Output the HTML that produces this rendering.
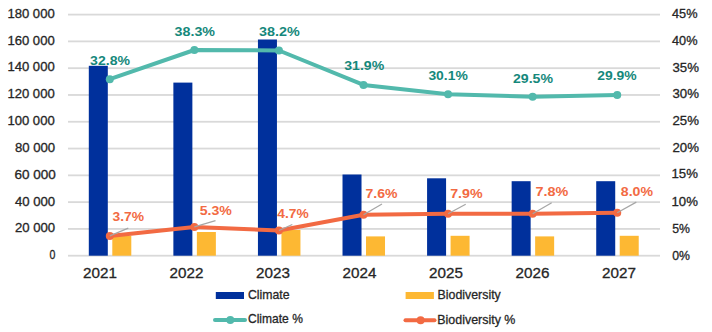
<!DOCTYPE html>
<html><head><meta charset="utf-8"><style>
html,body{margin:0;padding:0;background:#fff;width:712px;height:332px;overflow:hidden}
svg{display:block}
text{font-family:"Liberation Sans",sans-serif}
</style></head><body>
<svg width="712" height="332" viewBox="0 0 712 332"><rect width="712" height="332" fill="#fff"/><rect x="68" y="13.70" width="592" height="1.8" fill="#d9d9d9"/><rect x="68" y="40.49" width="592" height="1.8" fill="#d9d9d9"/><rect x="68" y="67.28" width="592" height="1.8" fill="#d9d9d9"/><rect x="68" y="94.07" width="592" height="1.8" fill="#d9d9d9"/><rect x="68" y="120.86" width="592" height="1.8" fill="#d9d9d9"/><rect x="68" y="147.65" width="592" height="1.8" fill="#d9d9d9"/><rect x="68" y="174.44" width="592" height="1.8" fill="#d9d9d9"/><rect x="68" y="201.23" width="592" height="1.8" fill="#d9d9d9"/><rect x="68" y="228.02" width="592" height="1.8" fill="#d9d9d9"/><rect x="68" y="254.81" width="592" height="1.8" fill="#d9d9d9"/><rect x="88.80" y="65.80" width="19" height="189.90" fill="#00309c"/><rect x="112.30" y="235.90" width="19" height="19.80" fill="#fdb833"/><rect x="173.37" y="82.60" width="19" height="173.10" fill="#00309c"/><rect x="196.87" y="232.00" width="19" height="23.70" fill="#fdb833"/><rect x="257.94" y="39.50" width="19" height="216.20" fill="#00309c"/><rect x="281.44" y="229.90" width="19" height="25.80" fill="#fdb833"/><rect x="342.51" y="174.50" width="19" height="81.20" fill="#00309c"/><rect x="366.01" y="236.40" width="19" height="19.30" fill="#fdb833"/><rect x="427.08" y="178.30" width="19" height="77.40" fill="#00309c"/><rect x="450.58" y="235.80" width="19" height="19.90" fill="#fdb833"/><rect x="511.65" y="181.20" width="19" height="74.50" fill="#00309c"/><rect x="535.15" y="236.40" width="19" height="19.30" fill="#fdb833"/><rect x="596.22" y="181.20" width="19" height="74.50" fill="#00309c"/><rect x="619.72" y="235.80" width="19" height="19.90" fill="#fdb833"/><polyline points="109.80,79.20 194.37,50.00 278.94,50.50 363.51,84.90 448.08,94.20 532.65,96.70 617.22,94.90" fill="none" stroke="#52b9ac" stroke-width="4" stroke-linejoin="round"/><circle cx="109.80" cy="79.20" r="4" fill="#52b9ac"/><circle cx="194.37" cy="50.00" r="4" fill="#52b9ac"/><circle cx="278.94" cy="50.50" r="4" fill="#52b9ac"/><circle cx="363.51" cy="84.90" r="4" fill="#52b9ac"/><circle cx="448.08" cy="94.20" r="4" fill="#52b9ac"/><circle cx="532.65" cy="96.70" r="4" fill="#52b9ac"/><circle cx="617.22" cy="94.90" r="4" fill="#52b9ac"/><polyline points="109.80,235.90 194.37,226.90 278.94,230.50 363.51,214.70 448.08,213.70 532.65,213.70 617.22,212.70" fill="none" stroke="#f26a43" stroke-width="4" stroke-linejoin="round"/><circle cx="109.80" cy="235.90" r="4" fill="#f26a43"/><circle cx="194.37" cy="226.90" r="4" fill="#f26a43"/><circle cx="278.94" cy="230.50" r="4" fill="#f26a43"/><circle cx="363.51" cy="214.70" r="4" fill="#f26a43"/><circle cx="448.08" cy="213.70" r="4" fill="#f26a43"/><circle cx="532.65" cy="213.70" r="4" fill="#f26a43"/><circle cx="617.22" cy="212.70" r="4" fill="#f26a43"/><line x1="109.80" y1="235.90" x2="128.30" y2="228.20" stroke="#a6a6a6" stroke-width="1.3"/><line x1="194.37" y1="226.90" x2="215.50" y2="220.60" stroke="#a6a6a6" stroke-width="1.3"/><line x1="278.94" y1="230.50" x2="292.30" y2="224.50" stroke="#a6a6a6" stroke-width="1.3"/><line x1="363.51" y1="214.70" x2="382.00" y2="204.00" stroke="#a6a6a6" stroke-width="1.3"/><line x1="448.08" y1="213.70" x2="465.70" y2="204.30" stroke="#a6a6a6" stroke-width="1.3"/><line x1="532.65" y1="213.70" x2="551.70" y2="202.80" stroke="#a6a6a6" stroke-width="1.3"/><line x1="617.22" y1="212.70" x2="636.30" y2="202.10" stroke="#a6a6a6" stroke-width="1.3"/><rect x="215.8" y="292" width="28.2" height="7" fill="#00309c"/><rect x="405.6" y="292" width="28.3" height="7" fill="#fdb833"/><line x1="215" y1="320.1" x2="245" y2="320.1" stroke="#52b9ac" stroke-width="4" stroke-linecap="round"/><circle cx="230.3" cy="320.1" r="4" fill="#52b9ac"/><line x1="405.5" y1="320.2" x2="434.5" y2="320.2" stroke="#f26a43" stroke-width="4" stroke-linecap="round"/><circle cx="420.6" cy="320.2" r="4" fill="#f26a43"/><text x="7.40" y="18.00" font-size="12.50" fill="#262626" stroke="#262626" stroke-width="0.3" textLength="47.29" lengthAdjust="spacingAndGlyphs">180 000</text><text x="7.40" y="45.11" font-size="12.50" fill="#262626" stroke="#262626" stroke-width="0.3" textLength="47.29" lengthAdjust="spacingAndGlyphs">160 000</text><text x="7.40" y="71.22" font-size="12.50" fill="#262626" stroke="#262626" stroke-width="0.3" textLength="47.29" lengthAdjust="spacingAndGlyphs">140 000</text><text x="7.40" y="98.33" font-size="12.50" fill="#262626" stroke="#262626" stroke-width="0.3" textLength="47.29" lengthAdjust="spacingAndGlyphs">120 000</text><text x="7.40" y="125.44" font-size="12.50" fill="#262626" stroke="#262626" stroke-width="0.3" textLength="47.29" lengthAdjust="spacingAndGlyphs">100 000</text><text x="14.90" y="151.55" font-size="12.50" fill="#262626" stroke="#262626" stroke-width="0.3" textLength="40.29" lengthAdjust="spacingAndGlyphs">80 000</text><text x="14.40" y="178.66" font-size="12.50" fill="#262626" stroke="#262626" stroke-width="0.3" textLength="41.25" lengthAdjust="spacingAndGlyphs">60 000</text><text x="14.90" y="205.77" font-size="12.50" fill="#262626" stroke="#262626" stroke-width="0.3" textLength="40.24" lengthAdjust="spacingAndGlyphs">40 000</text><text x="14.90" y="231.88" font-size="12.50" fill="#262626" stroke="#262626" stroke-width="0.3" textLength="40.24" lengthAdjust="spacingAndGlyphs">20 000</text><text x="49.40" y="258.99" font-size="12.50" fill="#262626" stroke="#262626" stroke-width="0.3" textLength="5.89" lengthAdjust="spacingAndGlyphs">0</text><text x="672.00" y="17.80" font-size="12.50" fill="#262626" stroke="#262626" stroke-width="0.3" textLength="25.47" lengthAdjust="spacingAndGlyphs">45%</text><text x="672.00" y="44.91" font-size="12.50" fill="#262626" stroke="#262626" stroke-width="0.3" textLength="25.47" lengthAdjust="spacingAndGlyphs">40%</text><text x="672.50" y="72.02" font-size="12.50" fill="#262626" stroke="#262626" stroke-width="0.3" textLength="26.45" lengthAdjust="spacingAndGlyphs">35%</text><text x="672.50" y="98.13" font-size="12.50" fill="#262626" stroke="#262626" stroke-width="0.3" textLength="26.45" lengthAdjust="spacingAndGlyphs">30%</text><text x="672.50" y="125.24" font-size="12.50" fill="#262626" stroke="#262626" stroke-width="0.3" textLength="26.45" lengthAdjust="spacingAndGlyphs">25%</text><text x="672.50" y="152.35" font-size="12.50" fill="#262626" stroke="#262626" stroke-width="0.3" textLength="26.45" lengthAdjust="spacingAndGlyphs">20%</text><text x="671.50" y="178.46" font-size="12.50" fill="#262626" stroke="#262626" stroke-width="0.3" textLength="26.37" lengthAdjust="spacingAndGlyphs">15%</text><text x="671.50" y="205.57" font-size="12.50" fill="#262626" stroke="#262626" stroke-width="0.3" textLength="26.37" lengthAdjust="spacingAndGlyphs">10%</text><text x="672.20" y="232.68" font-size="12.50" fill="#262626" stroke="#262626" stroke-width="0.3" textLength="17.75" lengthAdjust="spacingAndGlyphs">5%</text><text x="672.20" y="259.79" font-size="12.50" fill="#262626" stroke="#262626" stroke-width="0.3" textLength="17.75" lengthAdjust="spacingAndGlyphs">0%</text><text x="83.10" y="278.00" font-size="15.20" fill="#262626" stroke="#262626" stroke-width="0.3" textLength="33.94" lengthAdjust="spacingAndGlyphs">2021</text><text x="169.60" y="278.00" font-size="15.20" fill="#262626" stroke="#262626" stroke-width="0.3" textLength="33.91" lengthAdjust="spacingAndGlyphs">2022</text><text x="256.10" y="278.00" font-size="15.20" fill="#262626" stroke="#262626" stroke-width="0.3" textLength="33.91" lengthAdjust="spacingAndGlyphs">2023</text><text x="342.60" y="278.00" font-size="15.20" fill="#262626" stroke="#262626" stroke-width="0.3" textLength="33.91" lengthAdjust="spacingAndGlyphs">2024</text><text x="429.10" y="278.00" font-size="15.20" fill="#262626" stroke="#262626" stroke-width="0.3" textLength="33.91" lengthAdjust="spacingAndGlyphs">2025</text><text x="515.60" y="278.00" font-size="15.20" fill="#262626" stroke="#262626" stroke-width="0.3" textLength="33.91" lengthAdjust="spacingAndGlyphs">2026</text><text x="602.10" y="278.00" font-size="15.20" fill="#262626" stroke="#262626" stroke-width="0.3" textLength="33.94" lengthAdjust="spacingAndGlyphs">2027</text><text x="90.10" y="64.90" font-size="13.00" fill="#15887b" font-weight="bold" textLength="39.86" lengthAdjust="spacingAndGlyphs">32.8%</text><text x="174.60" y="36.00" font-size="13.00" fill="#15887b" font-weight="bold" textLength="40.39" lengthAdjust="spacingAndGlyphs">38.3%</text><text x="259.00" y="36.40" font-size="13.00" fill="#15887b" font-weight="bold" textLength="40.69" lengthAdjust="spacingAndGlyphs">38.2%</text><text x="344.30" y="69.80" font-size="13.00" fill="#15887b" font-weight="bold" textLength="39.91" lengthAdjust="spacingAndGlyphs">31.9%</text><text x="428.40" y="79.80" font-size="13.00" fill="#15887b" font-weight="bold" textLength="39.40" lengthAdjust="spacingAndGlyphs">30.1%</text><text x="513.00" y="83.00" font-size="13.00" fill="#15887b" font-weight="bold" textLength="40.00" lengthAdjust="spacingAndGlyphs">29.5%</text><text x="597.30" y="80.40" font-size="13.00" fill="#15887b" font-weight="bold" textLength="39.38" lengthAdjust="spacingAndGlyphs">29.9%</text><text x="112.50" y="221.40" font-size="13.00" fill="#f26a43" font-weight="bold" textLength="31.53" lengthAdjust="spacingAndGlyphs">3.7%</text><text x="199.70" y="214.90" font-size="13.00" fill="#f26a43" font-weight="bold" textLength="32.17" lengthAdjust="spacingAndGlyphs">5.3%</text><text x="277.30" y="218.00" font-size="13.00" fill="#f26a43" font-weight="bold" textLength="31.39" lengthAdjust="spacingAndGlyphs">4.7%</text><text x="365.50" y="197.50" font-size="13.00" fill="#f26a43" font-weight="bold" textLength="31.97" lengthAdjust="spacingAndGlyphs">7.6%</text><text x="450.20" y="197.50" font-size="13.00" fill="#f26a43" font-weight="bold" textLength="32.37" lengthAdjust="spacingAndGlyphs">7.9%</text><text x="535.50" y="196.40" font-size="13.00" fill="#f26a43" font-weight="bold" textLength="32.76" lengthAdjust="spacingAndGlyphs">7.8%</text><text x="620.80" y="195.50" font-size="13.00" fill="#f26a43" font-weight="bold" textLength="32.17" lengthAdjust="spacingAndGlyphs">8.0%</text><text x="248.00" y="298.80" font-size="13.00" fill="#262626" stroke="#262626" stroke-width="0.3" textLength="41.57" lengthAdjust="spacingAndGlyphs">Climate</text><text x="437.60" y="298.60" font-size="13.00" fill="#262626" stroke="#262626" stroke-width="0.3" textLength="63.14" lengthAdjust="spacingAndGlyphs">Biodiversity</text><text x="248.00" y="323.30" font-size="13.00" fill="#262626" stroke="#262626" stroke-width="0.3" textLength="54.88" lengthAdjust="spacingAndGlyphs">Climate %</text><text x="437.30" y="323.60" font-size="13.00" fill="#262626" stroke="#262626" stroke-width="0.3" textLength="78.08" lengthAdjust="spacingAndGlyphs">Biodiversity %</text></svg>
</body></html>
